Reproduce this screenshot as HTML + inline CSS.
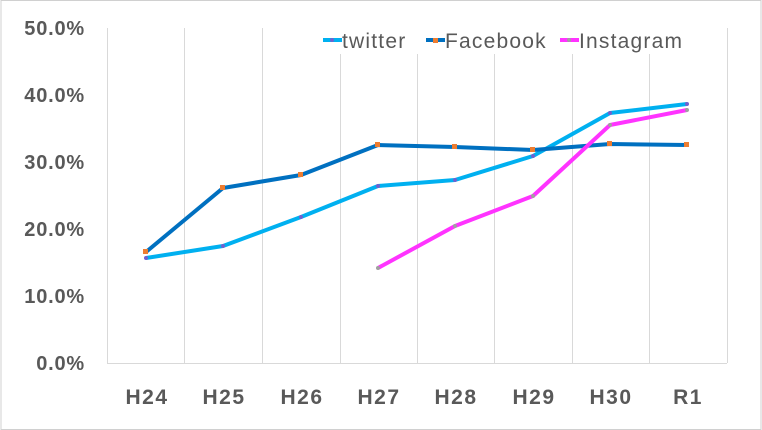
<!DOCTYPE html><html><head><style>body{margin:0;background:#fff}svg{display:block}text{font-family:"Liberation Sans",sans-serif;fill:#595959}</style></head><body>
<svg width="762" height="430" viewBox="0 0 762 430">
<rect x="1" y="0.5" width="760" height="429" fill="#fff" stroke="#d0d0d0"/>
<g stroke="#d9d9d9" stroke-width="1">
<line x1="107.5" y1="28" x2="107.5" y2="363"/><line x1="184.5" y1="28" x2="184.5" y2="363"/><line x1="262.5" y1="28" x2="262.5" y2="363"/><line x1="340.5" y1="28" x2="340.5" y2="363"/><line x1="417.5" y1="28" x2="417.5" y2="363"/><line x1="494.5" y1="28" x2="494.5" y2="363"/><line x1="572.5" y1="28" x2="572.5" y2="363"/><line x1="649.5" y1="28" x2="649.5" y2="363"/><line x1="727.5" y1="28" x2="727.5" y2="363"/>
<line x1="107" y1="363.5" x2="727" y2="363.5"/></g>
<rect x="310" y="22" width="390" height="32" fill="#fff"/>
<g font-size="20" font-weight="bold" text-anchor="end" letter-spacing="0.8">
<text x="85" y="35">50.0%</text><text x="85" y="102">40.0%</text><text x="85" y="169">30.0%</text><text x="85" y="236">20.0%</text><text x="85" y="303">10.0%</text><text x="85" y="370">0.0%</text></g>
<g font-size="21" font-weight="bold" text-anchor="middle" letter-spacing="1.5">
<text x="147" y="404">H24</text><text x="224" y="404">H25</text><text x="302" y="404">H26</text><text x="379" y="404">H27</text><text x="456" y="404">H28</text><text x="534" y="404">H29</text><text x="611" y="404">H30</text><text x="688" y="404">R1</text></g>
<g fill="none" stroke-width="4" stroke-linejoin="round">
<polyline stroke="#00b0f0" points="146,258 223,246 301,217 378,186 455,180 533,156 610,113 687,104"/>
<polyline stroke="#0070c0" points="146,252 223,188 301,175 378,145 455,147 533,150 610,144 687,145"/>
<polyline stroke="#ff33ff" points="378,268 455,226 533,196 610,125 687,110"/>
</g>
<g fill="#ed7d31"><rect x="143" y="249" width="5" height="5"/><rect x="220" y="185" width="5" height="5"/><rect x="298" y="172" width="5" height="5"/><rect x="375" y="142" width="5" height="5"/><rect x="452" y="144" width="5" height="5"/><rect x="530" y="147" width="5" height="5"/><rect x="607" y="141" width="5" height="5"/><rect x="684" y="142" width="5" height="5"/></g>
<g fill="#7060d0"><circle cx="146" cy="258" r="2"/><circle cx="223" cy="246" r="2"/><circle cx="301" cy="217" r="2"/><circle cx="378" cy="186" r="2"/><circle cx="455" cy="180" r="2"/><circle cx="533" cy="156" r="2"/><circle cx="610" cy="113" r="2"/><circle cx="687" cy="104" r="2"/></g>
<g fill="#a0a0a0"><circle cx="378" cy="268" r="2"/><circle cx="455" cy="226" r="2"/><circle cx="533" cy="196" r="2"/><circle cx="610" cy="125" r="2"/><circle cx="687" cy="110" r="2"/></g>
<g stroke-width="4"><line x1="323" y1="40" x2="342" y2="40" stroke="#00b0f0"/><line x1="426" y1="40" x2="445" y2="40" stroke="#0070c0"/><line x1="560" y1="40" x2="579" y2="40" stroke="#ff33ff"/></g>
<circle cx="332" cy="40" r="2" fill="#7060d0"/><rect x="433" y="38" width="5" height="5" fill="#ed7d31"/><circle cx="569" cy="40" r="2" fill="#a0a0a0"/>
<g font-size="21" letter-spacing="1.2"><text x="342" y="48">twitter</text><text x="445" y="48">Facebook</text><text x="579" y="48">Instagram</text></g>
</svg></body></html>
